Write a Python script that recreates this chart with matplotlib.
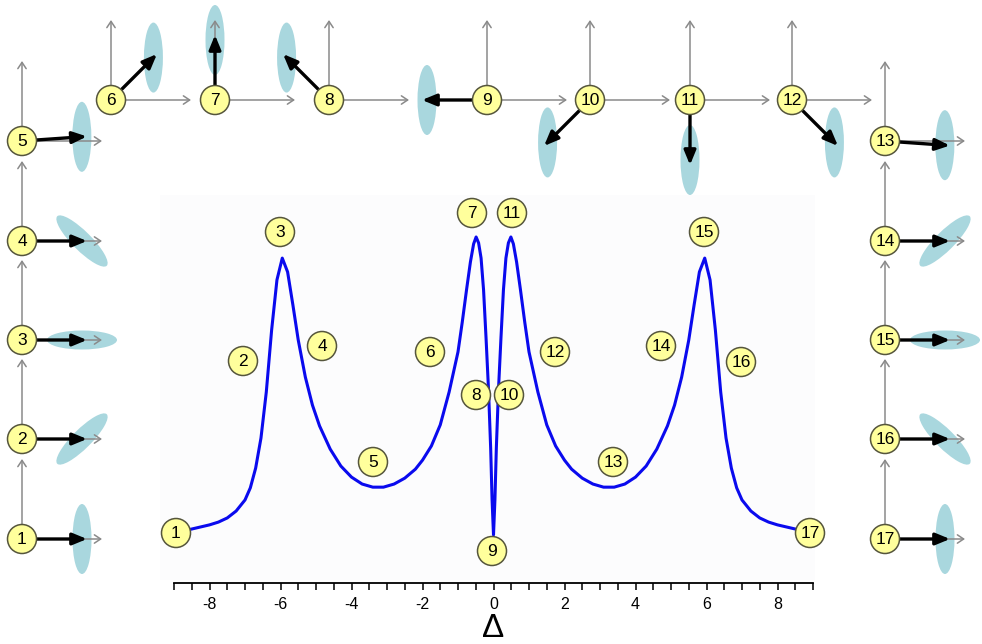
import matplotlib.pyplot as plt
import numpy as np
from matplotlib.patches import Circle, Ellipse, Rectangle

plt.rcParams['font.family'] = ['Liberation Sans', 'DejaVu Sans']
plt.rcParams['axes.unicode_minus'] = False

# spectrum: detuning vs. signal (tallest peaks = 1)
delta = [-8.9, -8.5, -8.0, -7.75, -7.5, -7.25, -7.0, -6.85, -6.7, -6.55,
         -6.4, -6.25, -6.1, -5.95, -5.8, -5.65, -5.5, -5.3, -5.1, -4.9,
         -4.6, -4.3, -4.0, -3.7, -3.4, -3.1, -2.8, -2.5, -2.2, -2.0,
         -1.75, -1.5, -1.25, -1.0, -0.88, -0.76, -0.65, -0.56, -0.49, -0.42,
         -0.35, -0.28, -0.21, -0.14, -0.08, -0.04, 0.0,
         0.04, 0.08, 0.14, 0.21, 0.28, 0.35, 0.42, 0.49, 0.56, 0.65,
         0.76, 0.88, 1.0, 1.25, 1.5, 1.75, 2.0, 2.2, 2.5, 2.8,
         3.1, 3.4, 3.7, 4.0, 4.3, 4.6, 4.9, 5.1, 5.3, 5.5,
         5.65, 5.8, 5.95, 6.1, 6.25, 6.4, 6.55, 6.7, 6.85, 7.0,
         7.25, 7.5, 7.75, 8.0, 8.5, 8.9]
signal = [0.147, 0.156, 0.168, 0.176, 0.188, 0.208, 0.240, 0.275, 0.332, 0.419,
          0.552, 0.731, 0.876, 0.939, 0.899, 0.803, 0.702, 0.595, 0.514, 0.454,
          0.387, 0.338, 0.306, 0.286, 0.277, 0.277, 0.286, 0.303, 0.329, 0.355,
          0.396, 0.457, 0.552, 0.668, 0.754, 0.847, 0.928, 0.980, 1.000, 0.983,
          0.939, 0.847, 0.708, 0.558, 0.390, 0.240, 0.139,
          0.240, 0.390, 0.558, 0.708, 0.847, 0.939, 0.983, 1.000, 0.980, 0.928,
          0.847, 0.754, 0.668, 0.552, 0.457, 0.396, 0.355, 0.329, 0.303, 0.286,
          0.277, 0.277, 0.286, 0.306, 0.338, 0.387, 0.454, 0.514, 0.595, 0.702,
          0.803, 0.899, 0.939, 0.876, 0.731, 0.552, 0.419, 0.332, 0.275, 0.240,
          0.208, 0.188, 0.176, 0.168, 0.156, 0.147]

# numbered markers along the spectrum (pixel layout)
mark_x = [176, 243, 280, 322, 373, 430, 472, 476, 492, 509, 512, 555, 613, 661, 704, 741, 810]
mark_y = [533, 361, 232, 346, 462, 352, 213, 395, 551, 395, 213, 352, 462, 346, 232, 362, 533]

# vector diagrams for each state (pixel layout)
state_x = [22, 22, 22, 22, 22, 111, 215, 329, 487, 590, 690, 792, 885, 885, 885, 885, 885]
state_y = [539, 439, 340, 241, 141, 100, 100, 100, 100, 100, 100, 100, 141, 241, 340, 439, 539]
# direction of the magnetisation vector, degrees counter-clockwise from +x
vector_angle = [0, 0, 0, 0, 4, 45, 90, 135, 180, 225, 270, 315, 356, 0, 0, 0, 0]
# long-axis tilt of the spread ellipse
ellipse_angle = [90, 45, 0, 135, 90, 90, 90, 90, 90, 90, 90, 90, 90, 45, 0, 135, 90]

fig = plt.figure(figsize=(9.82, 6.44), dpi=100)

# faint panel behind the spectrum
bg = fig.add_axes([0, 0, 1, 1], zorder=0)
bg.set_xlim(0, 982)
bg.set_ylim(644, 0)
bg.axis('off')
bg.add_patch(Rectangle((160, 195), 655, 385, facecolor='#fcfcfd', edgecolor='none'))

# spectrum
cx = fig.add_axes([174 / 982, 61 / 644, 639 / 982, 432.5 / 644], zorder=1)
cx.patch.set_visible(False)
cx.plot(delta, signal, color='#0a0aee', lw=2.2)
cx.set_xlim(-9, 9)
cx.set_ylim(0, 1.25)
for s in ['left', 'right', 'top']:
    cx.spines[s].set_visible(False)
cx.spines['bottom'].set_linewidth(1.3)
cx.set_yticks([])
cx.set_xticks(np.arange(-8, 9, 2))
cx.set_xticks(np.arange(-9, 9.01, 0.5), minor=True)
cx.tick_params(axis='x', which='both', direction='out', length=5, width=1.1)
cx.tick_params(axis='x', which='major', labelsize=11.5, pad=5)
cx.set_xlabel('Δ', fontsize=24, labelpad=1)

# overlay: vectors, ellipses, numbered markers
ov = fig.add_axes([0, 0, 1, 1], zorder=2)
ov.set_xlim(0, 982)
ov.set_ylim(644, 0)
ov.axis('off')

def marker(x, y, n):
    ov.add_patch(Circle((x, y), 14.5, facecolor='#ffff9c', edgecolor='#55553c', lw=1.1, zorder=6))
    ov.text(x, y + 0.5, str(n), ha='center', va='center', fontsize=12.5, zorder=7)

gray = dict(arrowstyle='->,head_length=0.45,head_width=0.3', color='#8a8a8a', lw=1.1,
            shrinkA=0, shrinkB=0)
black = dict(arrowstyle='-|>,head_length=0.85,head_width=0.35', color='black', lw=2.4,
             shrinkA=0, shrinkB=0)

for i in range(len(state_x)):
    x, y = state_x[i], state_y[i]
    a = np.radians(vector_angle[i])
    ex, ey = x + 60 * np.cos(a), y - 60 * np.sin(a)
    ov.add_patch(Ellipse((ex, ey), 70, 19, angle=-ellipse_angle[i],
                         facecolor='#a9d7de', edgecolor='none', zorder=2))
    ov.annotate('', xy=(x, y - 80), xytext=(x, y), arrowprops=gray, zorder=3)
    ov.annotate('', xy=(x + 80, y), xytext=(x, y), arrowprops=gray, zorder=3)
    tx, ty = x + 65 * np.cos(a), y - 65 * np.sin(a)
    ov.annotate('', xy=(tx, ty), xytext=(x, y), arrowprops=black, zorder=4)
    marker(x, y, i + 1)

for i in range(len(mark_x)):
    marker(mark_x[i], mark_y[i], i + 1)

fig.savefig('out.png', dpi=100, facecolor='white')
